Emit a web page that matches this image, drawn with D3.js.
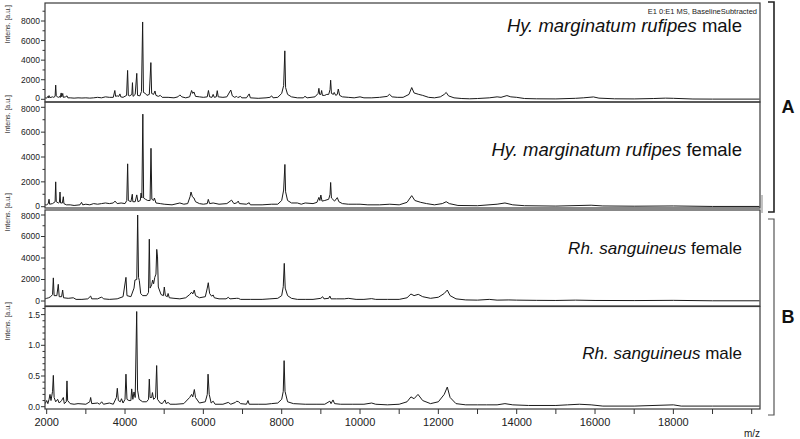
<!DOCTYPE html>
<html><head><meta charset="utf-8">
<script src="https://cdn.jsdelivr.net/npm/d3@7"></script>
<style>
body{margin:0;background:#fff}
svg{display:block;font-family:"Liberation Sans",Arial,Helvetica,sans-serif}
</style>
</head><body>
<svg id="chart" width="800" height="439"></svg>
<script>
// ---------------- DATA ----------------
const speciesNames = ["Hy. marginatum rufipes", "Hy. marginatum rufipes", "Rh. sanguineus", "Rh. sanguineus"];
const sexNames = ["male", "female", "female", "male"];
const groupLabels = ["A", "B"];
const xTickValues = [2000,3000,4000,5000,6000,7000,8000,9000,10000,11000,12000,13000,14000,15000,16000,17000,18000,19000,20000];
const xTickLabels = [2000,4000,6000,8000,10000,12000,14000,16000,18000];
const yTickLabelsA = [0,2000,4000,6000,8000];
const yMinorA = [1000,3000,5000,7000,9000];
const yTickLabelsB = [0.0,0.5,1.0,1.5];
const yMinorB = [0.1,0.2,0.3,0.4,0.6,0.7,0.8,0.9,1.1,1.2,1.3,1.4,1.6];

// spectra: [m/z, intensity]
const spectrumHyMale = [
[1960,150],[2000,120],[2030,300],[2045,150],[2060,380],[2075,180],[2110,200],[2150,250],[2180,200],[2215,300],[2230,1450],[2245,350],[2270,250],[2300,200],[2330,300],[2345,180],[2370,650],[2385,250],[2410,600],[2425,200],[2480,250],[2520,350],[2540,150],[2600,150],[2700,120],[2800,150],[2900,130],[3000,150],[3100,120],[3200,150],[3300,200],[3400,150],[3500,250],[3600,200],[3700,200],[3740,900],[3760,300],[3800,350],[3840,300],[3870,550],[3890,250],[3950,200],[4040,400],[4066,2950],[4085,400],[4120,350],[4175,500],[4190,1700],[4205,300],[4260,500],[4300,2650],[4320,400],[4380,350],[4420,800],[4450,7900],[4470,700],[4520,600],[4560,400],[4620,500],[4660,3750],[4680,600],[4730,500],[4765,850],[4790,400],[4850,300],[4900,400],[4950,200],[5100,200],[5250,150],[5350,250],[5400,450],[5450,250],[5550,150],[5650,250],[5700,900],[5730,600],[5760,750],[5800,300],[5900,250],[6000,200],[6100,250],[6130,900],[6160,250],[6220,200],[6250,500],[6280,200],[6330,250],[6355,880],[6380,250],[6500,200],[6600,250],[6700,950],[6740,350],[6800,200],[6850,300],[6880,180],[6950,300],[6980,150],[7100,150],[7170,550],[7200,150],[7400,100],[7600,150],[7700,200],[7745,350],[7780,150],[7900,200],[8000,600],[8050,1400],[8080,4950],[8100,1200],[8150,500],[8250,250],[8400,150],[8550,150],[8595,300],[8650,150],[8850,250],[8930,600],[8950,1120],[8970,500],[9000,500],[9020,900],[9040,400],[9100,400],[9150,500],[9200,500],[9235,1000],[9250,1950],[9270,600],[9320,500],[9340,700],[9380,400],[9420,500],[9445,1050],[9480,400],[9550,250],[9700,200],[9850,150],[10000,250],[10100,150],[10300,150],[10500,200],[10700,300],[10750,520],[10820,250],[10950,200],[11100,200],[11250,500],[11320,1200],[11380,650],[11500,500],[11600,400],[11750,200],[11900,150],[12050,250],[12150,500],[12200,700],[12260,350],[12400,150],[12600,80],[12800,50],[13000,80],[13300,150],[13500,250],[13600,200],[13750,380],[13850,250],[14000,200],[14200,80],[14500,50],[15000,40],[15500,100],[15700,150],[15960,240],[16100,120],[16500,50],[17000,40],[17500,80],[17800,120],[18000,100],[18500,30],[19000,20],[20200,20]
];
const spectrumHyFemale = [
[1960,150],[2000,150],[2040,250],[2060,600],[2075,200],[2150,250],[2215,400],[2230,2000],[2245,400],[2300,300],[2325,350],[2340,1180],[2355,300],[2400,300],[2425,800],[2440,250],[2500,150],[2600,150],[2700,100],[2850,150],[2890,350],[2920,150],[3000,200],[3100,150],[3200,250],[3300,200],[3400,250],[3500,300],[3600,250],[3700,300],[3745,450],[3800,250],[3900,300],[4000,250],[4045,500],[4067,3450],[4085,500],[4150,400],[4186,1000],[4200,400],[4260,400],[4300,950],[4330,400],[4390,500],[4410,1100],[4430,700],[4455,7450],[4475,700],[4520,600],[4580,500],[4640,500],[4663,4700],[4685,600],[4730,500],[4750,700],[4790,300],[4900,250],[5000,200],[5200,150],[5400,300],[5500,200],[5600,250],[5660,800],[5685,1180],[5720,800],[5760,700],[5800,400],[5900,250],[6000,200],[6100,250],[6126,590],[6160,250],[6250,300],[6400,200],[6600,250],[6720,530],[6780,250],[6850,300],[6890,450],[6920,250],[7100,200],[7170,320],[7200,150],[7500,150],[7745,200],[7900,200],[8000,500],[8050,1340],[8082,3400],[8100,1200],[8150,500],[8250,300],[8400,300],[8500,200],[8600,300],[8800,250],[8900,350],[8950,750],[8975,500],[9000,940],[9030,450],[9100,500],[9200,600],[9235,1000],[9250,1950],[9270,700],[9350,450],[9420,730],[9460,400],[9550,250],[9700,200],[9900,200],[10000,200],[10200,150],[10500,150],[10760,200],[11000,150],[11200,350],[11320,890],[11400,500],[11550,350],[11700,250],[11900,150],[12100,250],[12200,400],[12280,250],[12500,100],[13000,80],[13500,200],[13700,300],[13900,150],[14200,80],[15000,50],[15900,120],[16200,60],[17000,40],[18000,60],[19000,20],[20200,20]
];
const spectrumRhFemale = [
[1960,200],[2000,250],[2050,300],[2100,400],[2150,600],[2170,2150],[2190,500],[2260,500],[2296,1550],[2320,400],[2380,400],[2408,1020],[2430,300],[2550,250],[2680,300],[2750,150],[2900,150],[3050,200],[3123,460],[3150,200],[3300,200],[3404,370],[3450,200],[3600,150],[3800,200],[3950,400],[4024,2200],[4050,500],[4150,400],[4230,1200],[4254,1950],[4300,2000],[4323,8000],[4345,2200],[4365,1900],[4400,700],[4450,500],[4550,500],[4600,800],[4620,5750],[4640,1200],[4680,1500],[4705,1950],[4730,1600],[4760,2200],[4790,2500],[4810,4800],[4830,4100],[4850,1300],[4920,600],[4980,500],[5003,1300],[5030,500],[5080,400],[5100,700],[5130,300],[5250,250],[5400,200],[5550,300],[5650,600],[5700,820],[5730,650],[5768,1020],[5800,500],[5900,300],[6050,400],[6100,1200],[6126,1700],[6160,700],[6210,450],[6250,560],[6280,300],[6400,200],[6580,200],[6636,340],[6680,200],[6850,250],[6890,250],[6950,150],[7200,150],[7500,150],[7700,200],[7900,250],[8000,500],[8040,1330],[8066,3500],[8090,1200],[8150,500],[8250,250],[8400,150],[8600,150],[8800,150],[9000,250],[9046,400],[9080,200],[9200,250],[9230,460],[9260,200],[9400,200],[9600,200],[9700,250],[9900,150],[10100,150],[10297,220],[10400,150],[10700,150],[11000,150],[11200,300],[11300,650],[11380,500],[11487,620],[11600,400],[11800,250],[12000,350],[12150,700],[12228,1020],[12300,500],[12450,200],[12700,100],[13000,80],[13300,150],[13500,80],[13800,100],[14000,80],[14500,60],[15000,50],[15500,80],[16000,50],[17000,40],[18000,60],[19000,20],[20200,20]
];
const spectrumRhMale = [
[1960,0.05],[2000,0.1],[2030,0.05],[2060,0.12],[2085,0.2],[2110,0.1],[2150,0.25],[2170,0.51],[2190,0.15],[2230,0.08],[2280,0.12],[2320,0.06],[2380,0.1],[2425,0.15],[2450,0.05],[2500,0.08],[2518,0.42],[2535,0.1],[2600,0.05],[2700,0.04],[2800,0.05],[3000,0.04],[3100,0.08],[3123,0.15],[3150,0.05],[3300,0.06],[3350,0.04],[3404,0.08],[3450,0.04],[3600,0.06],[3700,0.04],[3780,0.15],[3803,0.3],[3830,0.1],[3880,0.08],[3910,0.13],[3950,0.06],[4000,0.12],[4024,0.53],[4050,0.12],[4100,0.1],[4150,0.1],[4170,0.29],[4200,0.12],[4230,0.24],[4260,0.15],[4298,1.55],[4320,0.27],[4360,0.12],[4450,0.08],[4550,0.08],[4600,0.12],[4620,0.45],[4640,0.15],[4680,0.15],[4700,0.23],[4730,0.12],[4780,0.15],[4808,0.67],[4830,0.12],[4900,0.06],[4950,0.05],[5020,0.11],[5050,0.05],[5100,0.07],[5150,0.04],[5300,0.04],[5500,0.05],[5650,0.15],[5700,0.2],[5730,0.16],[5770,0.28],[5800,0.15],[5900,0.06],[6050,0.08],[6100,0.2],[6120,0.53],[6150,0.2],[6200,0.06],[6250,0.09],[6300,0.04],[6500,0.04],[6636,0.07],[6700,0.04],[6820,0.07],[6850,0.09],[6900,0.08],[6950,0.05],[7100,0.04],[7140,0.1],[7170,0.04],[7400,0.04],[7600,0.04],[7740,0.05],[7900,0.06],[8000,0.12],[8040,0.25],[8062,0.75],[8085,0.25],[8150,0.08],[8300,0.05],[8600,0.04],[8900,0.04],[9100,0.04],[9230,0.09],[9260,0.05],[9310,0.11],[9350,0.05],[9500,0.04],[9800,0.04],[10100,0.04],[10297,0.06],[10400,0.04],[10700,0.03],[11000,0.04],[11200,0.08],[11300,0.16],[11380,0.13],[11480,0.2],[11600,0.1],[11800,0.05],[12000,0.08],[12150,0.2],[12228,0.32],[12300,0.15],[12450,0.05],[12700,0.03],[13000,0.03],[13232,0.03],[13500,0.03],[13700,0.05],[13900,0.03],[14300,0.02],[15000,0.02],[15300,0.03],[15600,0.04],[15900,0.03],[16200,0.01],[17000,0.01],[18000,0.03],[18200,0.01],[19000,0.01],[20200,0.01]
];
const spectra = [spectrumHyMale, spectrumHyFemale, spectrumRhFemale, spectrumRhMale];

// ---------------- LAYOUT ----------------
const svg = d3.select("#chart");
const left = 45, right = 760;
const x = d3.scaleLinear().domain([1957, 20212]).range([left, right]);

const panels = [
  {top: 3,     bottom: 102, zero: 99.3,  refV: 8000, refY: 21,    labels: yTickLabelsA, minor: yMinorA, fmt: d3.format("d"),  titleY: 32,  titleFs: 18.5, yTitleEnd: 5},
  {top: 102,   bottom: 208, zero: 206.7, refV: 8000, refY: 107.3, labels: yTickLabelsA, minor: yMinorA, fmt: d3.format("d"),  titleY: 156, titleFs: 18.5, yTitleEnd: 95},
  {top: 210,   bottom: 306, zero: 301,   refV: 8000, refY: 215,   labels: yTickLabelsA, minor: yMinorA, fmt: d3.format("d"),  titleY: 254, titleFs: 17, yTitleEnd: 193},
  {top: 306.5, bottom: 409, zero: 406.7, refV: 1.0,  refY: 345.3, labels: yTickLabelsB, minor: yMinorB, fmt: d3.format(".1f"), titleY: 359, titleFs: 17, yTitleEnd: 302}
];

const defs = svg.append("defs");

panels.forEach((p, i) => {
  const y = d3.scaleLinear().domain([0, p.refV]).range([p.zero, p.refY]);
  const g = svg.append("g");
  defs.append("clipPath").attr("id", "clip" + i)
    .append("rect").attr("x", left).attr("y", p.top).attr("width", right - left).attr("height", p.bottom - p.top);

  // spectrum
  const line = d3.line().x(d => x(d[0])).y(d => y(d[1]));
  g.append("path").datum(spectra[i])
    .attr("clip-path", `url(#clip${i})`)
    .attr("d", line).attr("fill", "none").attr("stroke", "#1a1a1a").attr("stroke-width", 1)
    .attr("stroke-linejoin", "round");

  // frame
  g.append("rect").attr("x", left).attr("y", p.top).attr("width", right - left).attr("height", p.bottom - p.top)
    .attr("fill", "none").attr("stroke", "#3a3a3a").attr("stroke-width", 1.2);

  // y-axis ticks
  const inRange = v => y(v) >= p.top - 0.5 && y(v) <= p.bottom;
  const shown = p.labels.filter(inRange);
  const topLabel = d3.max(shown), botLabel = d3.min(shown);
  g.selectAll(".maj").data(shown).join("line")
    .attr("x1", left - 4).attr("x2", left).attr("y1", d => y(d)).attr("y2", d => y(d))
    .attr("stroke", "#333").attr("stroke-width", 1);
  g.selectAll(".min").data(p.minor.filter(inRange)).join("line")
    .attr("x1", left - 2.5).attr("x2", left).attr("y1", d => y(d)).attr("y2", d => y(d))
    .attr("stroke", "#333").attr("stroke-width", 1);
  g.selectAll(".lab").data(shown).join("text")
    .attr("x", left - 5)
    .attr("y", d => y(d) + (i > 0 && i < 3 && d === topLabel ? 1.5 : 0) - (i < 2 && d === botLabel ? 1 : 0))
    .attr("dy", "0.35em")
    .attr("text-anchor", "end").attr("font-size", 8.5).attr("fill", "#222")
    .text(d => p.fmt(d));

  // y title
  g.append("text").attr("transform", `translate(10,${p.yTitleEnd}) rotate(-90)`)
    .attr("text-anchor", "end").attr("font-size", 7).attr("fill", "#333")
    .text("Intens. [a.u.]");

  // panel title
  const t = g.append("text").attr("x", 742).attr("y", p.titleY).attr("text-anchor", "end")
    .attr("font-size", p.titleFs).attr("fill", "#111");
  t.append("tspan").attr("font-style", "italic").text(speciesNames[i]);
  t.append("tspan").text(" " + sexNames[i]);
});

// top-right info
svg.append("text").attr("x", 757).attr("y", 14).attr("text-anchor", "end")
  .attr("font-size", 7.5).attr("fill", "#222").text("E1 0:E1 MS, BaselineSubtracted");

// small edge artifact at right of panel 2
svg.append("line").attr("x1", 762).attr("x2", 762).attr("y1", 195).attr("y2", 213)
  .attr("stroke", "#999").attr("stroke-width", 1.2);

// bottom x axis
const bottomY = panels[3].bottom;
svg.append("g").selectAll("line").data(xTickValues).join("line")
  .attr("x1", d => x(d)).attr("x2", d => x(d)).attr("y1", bottomY).attr("y2", bottomY + 5)
  .attr("stroke", "#333").attr("stroke-width", 1);
svg.append("g").selectAll("text").data(xTickLabels).join("text")
  .attr("x", d => x(d)).attr("y", bottomY + 17).attr("text-anchor", "middle")
  .attr("font-size", 11).attr("fill", "#222").text(d => d);
svg.append("text").attr("x", 752).attr("y", 437).attr("text-anchor", "middle")
  .attr("font-size", 10).attr("fill", "#222").text("m/z");

// brackets
const brackets = [{y1: 2, y2: 212}, {y1: 219, y2: 415}];
brackets.forEach((b, i) => {
  svg.append("path")
    .attr("d", `M768,${b.y1}H774V${b.y2}H768`)
    .attr("fill", "none").attr("stroke", i === 0 ? "#222" : "#555").attr("stroke-width", i === 0 ? 1.6 : 1.2);
  svg.append("text").attr("x", 788).attr("y", (b.y1 + b.y2) / 2).attr("dy", "0.35em")
    .attr("text-anchor", "middle").attr("font-size", 18).attr("font-weight", "bold").attr("fill", "#111")
    .text(groupLabels[i]);
});
</script>
</body></html>
